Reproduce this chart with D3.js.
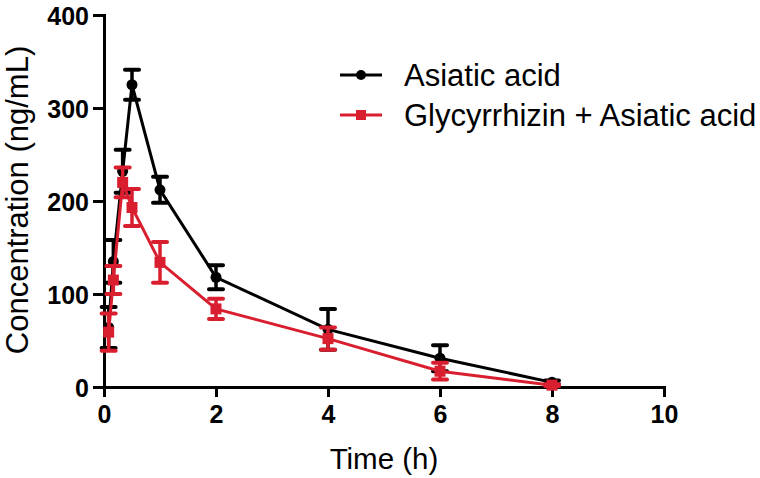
<!DOCTYPE html>
<html>
<head>
<meta charset="utf-8">
<script src="https://cdn.jsdelivr.net/npm/d3@7"></script>
<style>
  body { margin: 0; background: #fff; }
  text { font-family: "Liberation Sans", Arial, sans-serif; }
</style>
</head>
<body>
<svg width="760" height="478"></svg>
<script>
var w = 760;
var h = 478;

// sampling times (h)
var times = [0.083, 0.167, 0.333, 0.5, 1, 2, 4, 6, 8];
var aaMean = [64, 135, 232, 325, 212, 118, 62, 31, 5];
var aaErr = [22, 23, 23, 16, 14, 13, 22, 14, 2];
var gaMean = [59, 115, 220, 193, 134, 84, 52, 17, 2];
var gaErr = [20, 15, 16, 20, 22, 11, 12, 9, 1];

var xTicks = [0, 2, 4, 6, 8, 10];
var yTicks = [0, 100, 200, 300, 400];
var legendText = ["Asiatic acid", "Glycyrrhizin + Asiatic acid"];

var red = "#d91f2f";

var svg = d3.select("svg").attr("width", w).attr("height", h);

var x = d3.scaleLinear().domain([0, 10]).range([104, 664]);
var y = d3.scaleLinear().domain([0, 400]).range([387, 15]);

// axes
var xAxis = svg
  .append("g")
  .attr("transform", "translate(0," + y(0) + ")")
  .call(d3.axisBottom(x).tickValues(xTicks).tickSize(10).tickPadding(5));

var yAxis = svg
  .append("g")
  .attr("transform", "translate(" + x(0) + ",0)")
  .call(d3.axisLeft(y).tickValues(yTicks).tickSize(11).tickPadding(4));

[xAxis, yAxis].forEach((a) => {
  a.select(".domain").attr("stroke", "#000").attr("stroke-width", 3);
  a.selectAll(".tick line").attr("stroke", "#000").attr("stroke-width", 3);
  a.selectAll(".tick text")
    .attr("fill", "#000")
    .style("font-size", "25px")
    .style("font-weight", "bold");
});
xAxis.selectAll(".tick text").attr("dy", "0.85em");
yAxis.selectAll(".tick text").attr("dy", "0.36em");

// axis titles
svg
  .append("text")
  .attr("x", x(5))
  .attr("y", 469)
  .attr("text-anchor", "middle")
  .style("font-size", "29.5px")
  .text("Time (h)");

svg
  .append("text")
  .attr("transform", "translate(28," + (y(200) - 1) + ") rotate(-90)")
  .attr("text-anchor", "middle")
  .style("font-size", "31px")
  .text("Concentration (ng/mL)");

function drawSeries(means, errs, color, shape) {
  var data = times.map((t, i) => ({ t: t, m: means[i], e: errs[i] }));
  var g = svg.append("g");

  var line = d3
    .line()
    .x((d) => x(d.t))
    .y((d) => y(d.m));

  g.append("path")
    .datum(data)
    .attr("d", line)
    .attr("fill", "none")
    .attr("stroke", color)
    .attr("stroke-width", 3);

  var bars = g.selectAll(".err").data(data).enter().append("g");
  bars
    .append("line")
    .attr("x1", (d) => x(d.t))
    .attr("x2", (d) => x(d.t))
    .attr("y1", (d) => y(d.m + d.e))
    .attr("y2", (d) => y(Math.max(0, d.m - d.e)))
    .attr("stroke", color)
    .attr("stroke-width", 3.5);
  [1, -1].forEach((s) => {
    bars
      .append("line")
      .attr("x1", (d) => x(d.t) - 7)
      .attr("x2", (d) => x(d.t) + 7)
      .attr("y1", (d) => y(Math.max(0, d.m + s * d.e)))
      .attr("y2", (d) => y(Math.max(0, d.m + s * d.e)))
      .attr("stroke", color)
      .attr("stroke-width", 4)
      .attr("stroke-linecap", "round");
  });

  if (shape === "circle") {
    g.selectAll("circle")
      .data(data)
      .enter()
      .append("circle")
      .attr("cx", (d) => x(d.t))
      .attr("cy", (d) => y(d.m))
      .attr("r", 5.5)
      .attr("fill", color);
  } else {
    g.selectAll("rect.pt")
      .data(data)
      .enter()
      .append("rect")
      .attr("x", (d) => x(d.t) - 5.5)
      .attr("y", (d) => y(d.m) - 5.5)
      .attr("width", 11)
      .attr("height", 11)
      .attr("fill", color);
  }
}

drawSeries(aaMean, aaErr, "#000", "circle");
drawSeries(gaMean, gaErr, red, "square");

// legend
var legend = svg
  .selectAll(".legend")
  .data(legendText)
  .enter()
  .append("g")
  .attr("transform", (d, i) => "translate(340," + (75 + i * 40) + ")");

legend
  .append("line")
  .attr("x1", 0)
  .attr("x2", 42)
  .attr("stroke", (d, i) => (i === 0 ? "#000" : red))
  .attr("stroke-width", 3);

legend
  .filter((d, i) => i === 0)
  .append("circle")
  .attr("cx", 21)
  .attr("r", 5)
  .attr("fill", "#000");

legend
  .filter((d, i) => i === 1)
  .append("rect")
  .attr("x", 16)
  .attr("y", -5)
  .attr("width", 10)
  .attr("height", 10)
  .attr("fill", red);

legend
  .append("text")
  .attr("x", 64)
  .attr("dy", "0.35em")
  .style("font-size", "31px")
  .text((d) => d);
</script>
</body>
</html>
